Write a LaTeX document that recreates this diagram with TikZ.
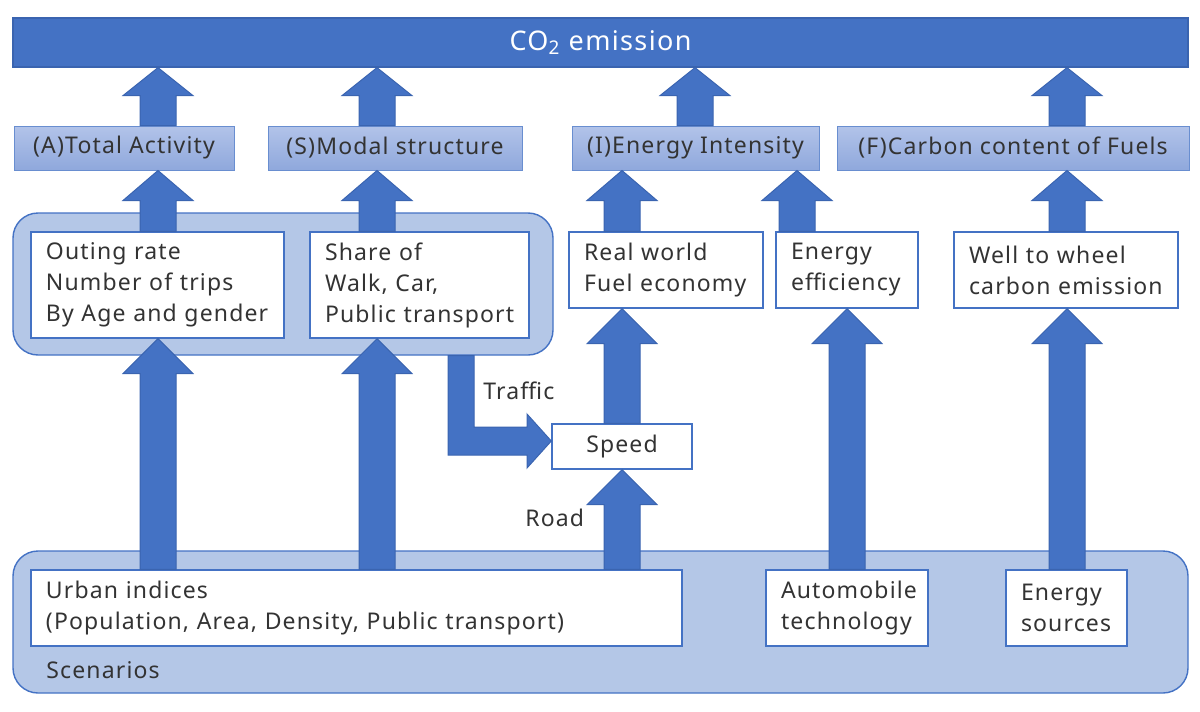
\documentclass[tikz,border=0pt]{standalone}
\usepackage{fontspec}
\setmainfont{Noto Sans}[LetterSpace=5]
\usetikzlibrary{calc}
\definecolor{dblue}{HTML}{4472C4}
\definecolor{dborder}{HTML}{3A64B0}
\definecolor{lblue}{HTML}{B4C7E7}
\definecolor{lbltop}{HTML}{B2C3E9}
\definecolor{lblbot}{HTML}{8FA8DC}
\definecolor{txt}{HTML}{333333}
\newcommand\blkup[4]{%
  \fill[blockarrow] let \p0=(#1,0), \p1=(#2), \p2=(#3) in
    (\x0-9pt,\y1) -- (\x0-9pt,\y2-#4) -- (\x0-17.5pt,\y2-#4) -- (\x0,\y2)
    -- (\x0+17.5pt,\y2-#4) -- (\x0+9pt,\y2-#4) -- (\x0+9pt,\y1) -- cycle;}
\begin{document}
\begin{tikzpicture}[x=0.5pt,y=-0.5pt,
  every node/.style={font=\fontsize{11.5}{15.5}\selectfont, text=txt},
  blockarrow/.style={fill=dblue, draw=dborder, line width=0.5pt},
  topbar/.style={draw=dborder, fill=dblue, line width=0.6pt, text=white, inner sep=0pt, font=\fontsize{13.5}{16}\selectfont},
  lbl/.style={draw=dblue!80, line width=0.5pt, top color=lbltop, bottom color=lblbot, inner sep=0pt, minimum height=22pt},
  grp/.style={draw=dblue, fill=lblue, line width=0.7pt, rounded corners=12.5pt, inner sep=0pt},
  wbox/.style={draw=dblue, fill=white, line width=0.7pt, inner sep=0pt, align=left},
  plain/.style={inner sep=0pt}]
\useasboundingbox (0,0) rectangle (1200,712);
% containers
\node[grp, minimum width=270pt, minimum height=71pt] (group) at (283,284) {};
\node[grp, minimum width=587.5pt, minimum height=71pt] (scen) at (600.5,622) {};
% top bar and labels
\node[topbar, minimum width=587.5pt, minimum height=24.5pt] (co2) at (600.5,42.5) {CO\textsubscript{2} emission};
\node[lbl, minimum width=110pt] (A) at (124,148) {(A)Total Activity};
\node[lbl, minimum width=127pt] (S) at (395,148) {(S)Modal structure};
\node[lbl, minimum width=123.5pt] (I) at (695.5,148) {(I)Energy Intensity};
\node[lbl, minimum width=176pt] (F) at (1013,148) {(F)Carbon content of Fuels};
% white boxes
\node[wbox, minimum width=126.5pt, minimum height=53pt, text width=111.5pt] (outing) at (157.5,285) {Outing rate\\Number of trips\\By Age and gender};
\node[wbox, minimum width=109.5pt, minimum height=53pt, text width=94.5pt] (share) at (419.5,285) {Share of\\Walk, Car,\\Public transport};
\node[wbox, minimum width=97pt, minimum height=38pt, text width=82pt] (real) at (666,270) {Real world\\Fuel economy};
\node[wbox, minimum width=71pt, minimum height=38pt, text width=56pt] (eff) at (847,270) {Energy\\efficiency};
\node[wbox, minimum width=112pt, minimum height=38pt, text width=97pt] (well) at (1066,270) {Well to wheel\\carbon emission};
\node[wbox, minimum width=70pt, minimum height=22.5pt, align=center] (speed) at (622,446.5) {Speed};
\node[wbox, minimum width=325.5pt, minimum height=38pt, text width=310.5pt] (urban) at (356.5,608) {Urban indices\\(Population, Area, Density, Public transport)};
\node[wbox, minimum width=81pt, minimum height=38pt, text width=66pt] (auto) at (847,608) {Automobile\\technology};
\node[wbox, minimum width=60.5pt, minimum height=38pt, text width=45.5pt] (src) at (1066.5,608) {Energy\\sources};
\node[plain, anchor=west] (scenlbl) at (46,670) {Scenarios};
% arrows to CO2
\blkup{158}{A.north}{co2.south}{14pt}
\blkup{377}{S.north}{co2.south}{14pt}
\blkup{695}{I.north}{co2.south}{14pt}
\blkup{1067}{F.north}{co2.south}{14pt}
% arrows to labels
\blkup{158}{outing.north}{A.south}{15pt}
\blkup{377}{share.north}{S.south}{15pt}
\blkup{622}{real.north}{I.south}{15pt}
\blkup{797}{eff.north}{I.south}{15pt}
\blkup{1067}{well.north}{F.south}{15pt}
% lower arrows
\blkup{158}{urban.north}{outing.south}{17.5pt}
\blkup{377}{urban.north}{share.south}{17.5pt}
\blkup{622}{urban.north}{speed.south}{17.5pt}
\blkup{622}{speed.north}{real.south}{17.5pt}
\blkup{847}{auto.north}{eff.south}{17.5pt}
\blkup{1067}{src.north}{well.south}{17.5pt}
% traffic elbow arrow
\fill[blockarrow] (448,0 |- group.south) -- (448,455) -- (527,455) -- (527,468)
  -- (speed.west |- 0,441) -- (527,414) -- (527,427) -- (474,427)
  -- (474,0 |- group.south) -- cycle;
\node[plain, anchor=west] (traffic) at (483,391) {Traffic};
\node[plain, anchor=west] (road) at (525,518) {Road};
\end{tikzpicture}
\end{document}
